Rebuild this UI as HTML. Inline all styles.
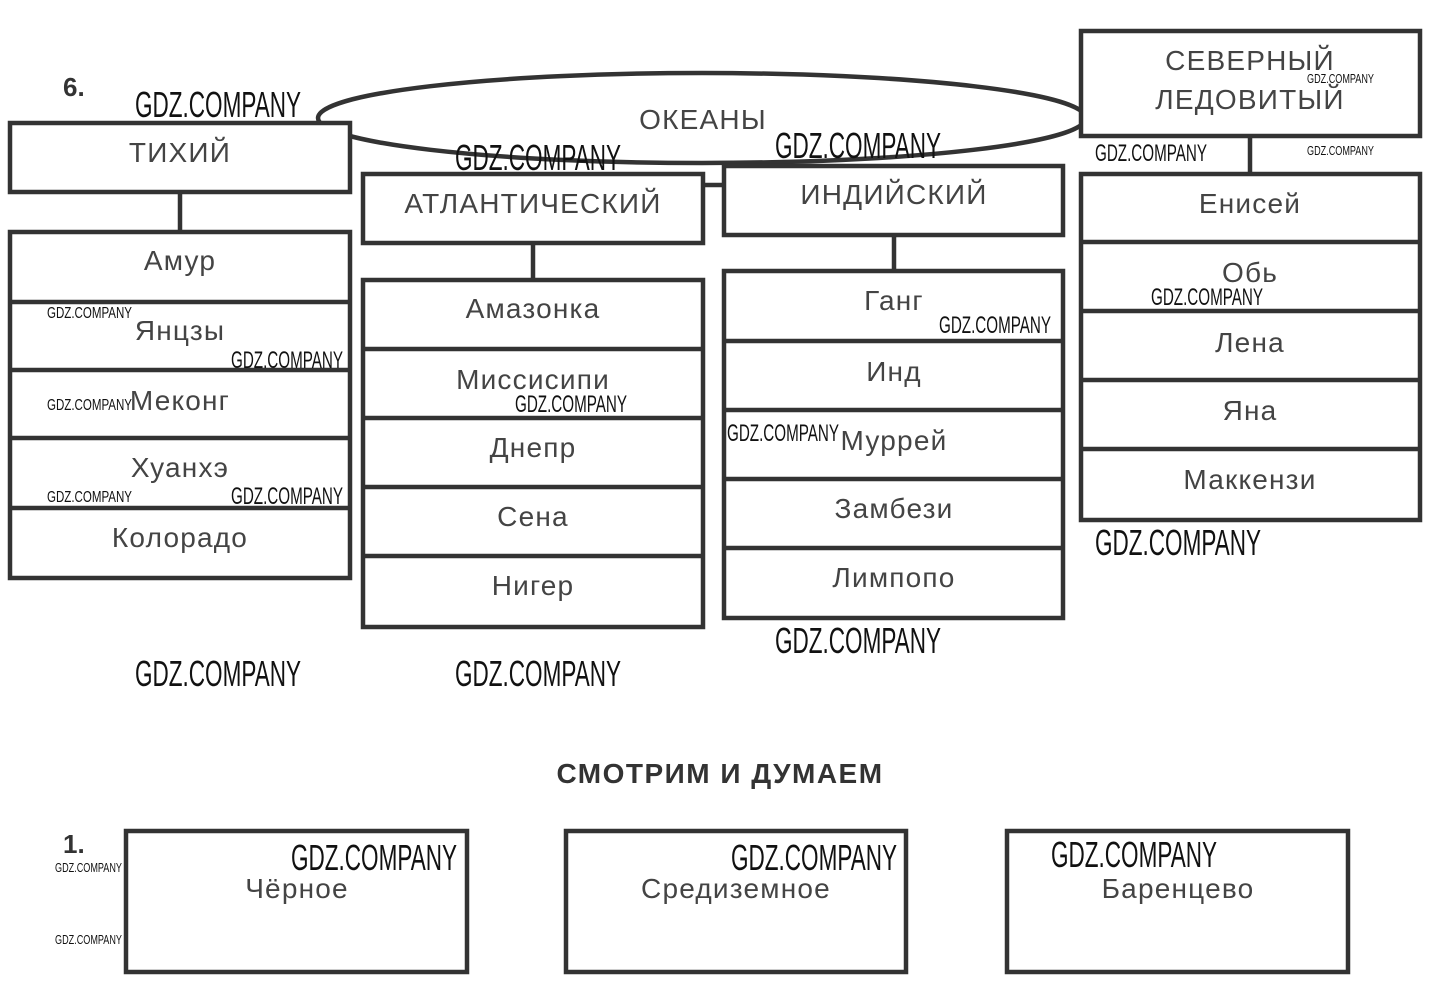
<!DOCTYPE html>
<html><head><meta charset="utf-8"><style>
html,body{margin:0;padding:0;background:#fff;}
svg{display:block;}
text{font-family:"Liberation Sans",sans-serif;}
.t{font-size:28px;fill:#444;text-anchor:middle;letter-spacing:1.2px;}
.w{fill:#111;}
</style></head><body>
<svg width="1436" height="995" viewBox="0 0 1436 995">
<g fill="none" stroke="#333" stroke-width="4.5">
<ellipse cx="702" cy="118" rx="384" ry="45"/>
<rect x="10" y="123" width="340" height="69" fill="#fff"/>
<rect x="363" y="174" width="340" height="69" fill="#fff"/>
<rect x="724" y="166" width="339" height="69" fill="#fff"/>
<rect x="1081" y="31" width="339" height="105" fill="#fff"/>
<line x1="703" y1="185" x2="724" y2="185"/>
<line x1="180" y1="192" x2="180" y2="232"/>
<line x1="533" y1="243" x2="533" y2="280"/>
<line x1="894" y1="235" x2="894" y2="271"/>
<line x1="1250" y1="136" x2="1250" y2="174"/>
<rect x="10" y="232" width="340" height="346"/>
<path d="M10 302H350M10 370H350M10 438H350M10 508H350"/>
<rect x="363" y="280" width="340" height="347"/>
<path d="M363 349H703M363 418H703M363 487H703M363 556H703"/>
<rect x="724" y="271" width="339" height="347"/>
<path d="M724 341H1063M724 410H1063M724 479H1063M724 548H1063"/>
<rect x="1081" y="174" width="339" height="346"/>
<path d="M1081 242H1420M1081 311H1420M1081 380H1420M1081 449H1420"/>
<rect x="126" y="831" width="341" height="141"/>
<rect x="566" y="831" width="340" height="141"/>
<rect x="1007" y="831" width="341" height="141"/>
</g>
<text x="63" y="96" font-size="26" font-weight="bold" fill="#333">6.</text>
<text x="63" y="853" font-size="26" font-weight="bold" fill="#333">1.</text>
<text class="t" x="703" y="129">ОКЕАНЫ</text>
<text class="t" x="180" y="162">ТИХИЙ</text>
<text class="t" x="533" y="213">АТЛАНТИЧЕСКИЙ</text>
<text class="t" x="894" y="204">ИНДИЙСКИЙ</text>
<text class="t" x="1250" y="70">СЕВЕРНЫЙ</text>
<text class="t" x="1250" y="109">ЛЕДОВИТЫЙ</text>
<text class="t" x="180" y="270">Амур</text>
<text class="t" x="180" y="340">Янцзы</text>
<text class="t" x="180" y="410">Меконг</text>
<text class="t" x="180" y="477">Хуанхэ</text>
<text class="t" x="180" y="547">Колорадо</text>
<text class="t" x="533" y="318">Амазонка</text>
<text class="t" x="533" y="389">Миссисипи</text>
<text class="t" x="533" y="457">Днепр</text>
<text class="t" x="533" y="526">Сена</text>
<text class="t" x="533" y="595">Нигер</text>
<text class="t" x="894" y="310">Ганг</text>
<text class="t" x="894" y="381">Инд</text>
<text class="t" x="894" y="450">Муррей</text>
<text class="t" x="894" y="518">Замбези</text>
<text class="t" x="894" y="587">Лимпопо</text>
<text class="t" x="1250" y="213">Енисей</text>
<text class="t" x="1250" y="282">Обь</text>
<text class="t" x="1250" y="352">Лена</text>
<text class="t" x="1250" y="420">Яна</text>
<text class="t" x="1250" y="489">Маккензи</text>
<text x="720" y="783" font-size="28" font-weight="bold" fill="#333" text-anchor="middle" letter-spacing="1.5">СМОТРИМ И ДУМАЕМ</text>
<text class="t" x="297" y="898">Чёрное</text>
<text class="t" x="736" y="898">Средиземное</text>
<text class="t" x="1178" y="898">Баренцево</text>
<g class="w" font-size="36">
<text x="135" y="117" textLength="166" lengthAdjust="spacingAndGlyphs">GDZ.COMPANY</text>
<text x="455" y="170" textLength="166" lengthAdjust="spacingAndGlyphs">GDZ.COMPANY</text>
<text x="775" y="158" textLength="166" lengthAdjust="spacingAndGlyphs">GDZ.COMPANY</text>
<text x="1095" y="555" textLength="166" lengthAdjust="spacingAndGlyphs">GDZ.COMPANY</text>
<text x="775" y="653" textLength="166" lengthAdjust="spacingAndGlyphs">GDZ.COMPANY</text>
<text x="135" y="686" textLength="166" lengthAdjust="spacingAndGlyphs">GDZ.COMPANY</text>
<text x="455" y="686" textLength="166" lengthAdjust="spacingAndGlyphs">GDZ.COMPANY</text>
<text x="291" y="870" textLength="166" lengthAdjust="spacingAndGlyphs">GDZ.COMPANY</text>
<text x="731" y="870" textLength="166" lengthAdjust="spacingAndGlyphs">GDZ.COMPANY</text>
<text x="1051" y="867" textLength="166" lengthAdjust="spacingAndGlyphs">GDZ.COMPANY</text>
</g>
<g class="w" font-size="24">
<text x="1095" y="161" textLength="112" lengthAdjust="spacingAndGlyphs">GDZ.COMPANY</text>
<text x="1151" y="305" textLength="112" lengthAdjust="spacingAndGlyphs">GDZ.COMPANY</text>
<text x="939" y="333" textLength="112" lengthAdjust="spacingAndGlyphs">GDZ.COMPANY</text>
<text x="727" y="441" textLength="112" lengthAdjust="spacingAndGlyphs">GDZ.COMPANY</text>
<text x="515" y="412" textLength="112" lengthAdjust="spacingAndGlyphs">GDZ.COMPANY</text>
<text x="231" y="368" textLength="112" lengthAdjust="spacingAndGlyphs">GDZ.COMPANY</text>
<text x="231" y="504" textLength="112" lengthAdjust="spacingAndGlyphs">GDZ.COMPANY</text>
</g>
<g class="w" font-size="16">
<text x="47" y="318" textLength="85" lengthAdjust="spacingAndGlyphs">GDZ.COMPANY</text>
<text x="47" y="410" textLength="85" lengthAdjust="spacingAndGlyphs">GDZ.COMPANY</text>
<text x="47" y="502" textLength="85" lengthAdjust="spacingAndGlyphs">GDZ.COMPANY</text>
<text x="55" y="872" textLength="67" lengthAdjust="spacingAndGlyphs" font-size="13">GDZ.COMPANY</text>
<text x="55" y="944" textLength="67" lengthAdjust="spacingAndGlyphs" font-size="13">GDZ.COMPANY</text>
<text x="1307" y="83" textLength="67" lengthAdjust="spacingAndGlyphs" font-size="13">GDZ.COMPANY</text>
<text x="1307" y="155" textLength="67" lengthAdjust="spacingAndGlyphs" font-size="13">GDZ.COMPANY</text>
</g>
</svg>
</body></html>
